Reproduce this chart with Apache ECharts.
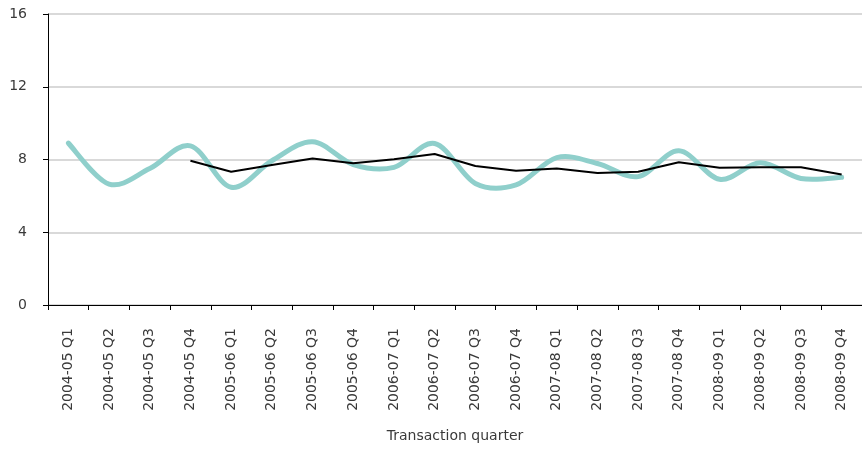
<!DOCTYPE html>
<html>
<head>
<meta charset="utf-8">
<script src="https://cdn.jsdelivr.net/npm/echarts@6/dist/echarts.min.js"></script>
<style>
  html, body { margin: 0; padding: 0; background: #fff; }
  #chart { width: 862px; height: 450px; }
</style>
</head>
<body>
<div id="chart"></div>
<script>
const quarters = [
  '2004-05 Q1', '2004-05 Q2', '2004-05 Q3', '2004-05 Q4',
  '2005-06 Q1', '2005-06 Q2', '2005-06 Q3', '2005-06 Q4',
  '2006-07 Q1', '2006-07 Q2', '2006-07 Q3', '2006-07 Q4',
  '2007-08 Q1', '2007-08 Q2', '2007-08 Q3', '2007-08 Q4',
  '2008-09 Q1', '2008-09 Q2', '2008-09 Q3', '2008-09 Q4'
]
const quarterly = [8.9, 6.65, 7.5, 8.75, 6.47, 7.93, 8.98, 7.72, 7.57, 8.88,
  6.68, 6.6, 8.1, 7.78, 7.06, 8.48, 6.91, 7.82, 6.96, 7.02]
const movingAvg = ['-', '-', '-', 7.93, 7.33, 7.7, 8.06, 7.8, 8.02, 8.3,
  7.64, 7.38, 7.5, 7.26, 7.33, 7.85, 7.55, 7.57, 7.57, 7.18]
const yTicks = { min: 0, max: 16, interval: 4 }

const FONT = 'DejaVu Sans'
const TEXT = '#3a3a3a'
const chart = echarts.init(document.getElementById('chart'))

// smoothed line like the spreadsheet one (catmull-rom through each point)
const smoothPath = (params, api) => {
  const pts = quarterly.map((v, i) => api.coord([i, v]))
  let d = 'M' + pts[0][0] + ',' + pts[0][1]
  for (let i = 0; i < pts.length - 1; i++) {
    const p0 = pts[Math.max(i - 1, 0)]
    const p1 = pts[i]
    const p2 = pts[i + 1]
    const p3 = pts[Math.min(i + 2, pts.length - 1)]
    const c1x = p1[0] + (p2[0] - p0[0]) / 6
    const c1y = p1[1] + (p2[1] - p0[1]) / 6
    const c2x = p2[0] - (p3[0] - p1[0]) / 6
    const c2y = p2[1] - (p3[1] - p1[1]) / 6
    d += ' C' + c1x + ',' + c1y + ' ' + c2x + ',' + c2y + ' ' + p2[0] + ',' + p2[1]
  }
  return {
    type: 'path',
    shape: { pathData: d },
    style: { fill: null, stroke: '#8fcfcb', lineWidth: 5, lineJoin: 'round', lineCap: 'round' }
  }
}

chart.setOption({
  animation: false,
  backgroundColor: '#fff',
  grid: { left: 48, right: 0, top: 14, bottom: 145 },
  xAxis: {
    type: 'category',
    data: quarters,
    boundaryGap: true,
    name: 'Transaction quarter',
    nameLocation: 'middle',
    nameGap: 124,
    nameTextStyle: { color: TEXT, fontFamily: FONT, fontSize: 14 },
    axisLine: { lineStyle: { color: '#000', width: 1 } },
    axisTick: { show: true, length: 5, lineStyle: { color: '#000' } },
    axisLabel: {
      rotate: 90,
      margin: 23,
      interval: 0,
      color: TEXT,
      fontFamily: FONT,
      fontSize: 14
    }
  },
  yAxis: {
    type: 'value',
    min: yTicks.min,
    max: yTicks.max,
    interval: yTicks.interval,
    axisLine: { show: true, lineStyle: { color: '#000', width: 1 } },
    axisTick: { show: true, length: 5, lineStyle: { color: '#000' } },
    axisLabel: { margin: 21, color: TEXT, fontFamily: FONT, fontSize: 14 },
    splitLine: { lineStyle: { color: '#d9d9d9', width: 2 } }
  },
  series: [
    {
      name: 'Quarterly',
      type: 'custom',
      data: [[0, quarterly[0]]],
      renderItem: smoothPath,
      silent: true
    },
    {
      name: 'Moving average',
      type: 'line',
      data: movingAvg,
      showSymbol: false,
      lineStyle: { color: '#000', width: 2 },
      itemStyle: { color: '#000' }
    }
  ]
})
</script>
</body>
</html>
